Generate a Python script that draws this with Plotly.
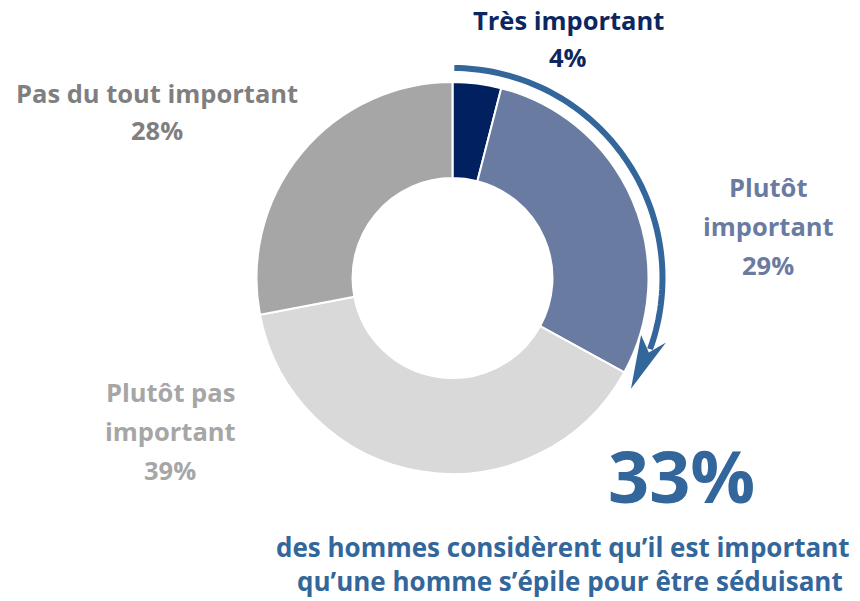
import numpy as np
import plotly.graph_objects as go

# Survey answers, clockwise from 12 o'clock
categories = ["Très important", "Plutôt important", "Plutôt pas important", "Pas du tout important"]
shares = [4, 29, 39, 28]
slice_colors = ["#002060", "#6A7BA2", "#D9D9D9", "#A6A6A6"]
label_colors = ["#0D2660", "#6A7BA2", "#A6A6A6", "#7F7F7F"]
label_lines = [["Très important"], ["Plutôt", "important"], ["Plutôt pas", "important"], ["Pas du tout important"]]
headline_lines = ["des hommes considèrent qu’il est important",
                  "qu’une homme s’épile pour être séduisant"]
accent = "#33669A"

W, H = 860, 601
cx, cy, R = 452.5, 278, 196  # donut centre / radius in pixels (top-left origin)

fig = go.Figure()
fig.add_trace(go.Pie(
    labels=categories, values=shares, sort=False, direction="clockwise", rotation=0,
    hole=0.51, marker=dict(colors=slice_colors, line=dict(color="white", width=2)),
    textinfo="none", hoverinfo="label+percent", showlegend=False,
    domain=dict(x=[(cx - R) / W, (cx + R) / W], y=[(H - cy - R) / H, (H - cy + R) / H]),
))

# Hidden pixel-space axes for the decorations and labels
fig.add_trace(go.Scatter(x=[0, W], y=[0, H], mode="markers", marker=dict(opacity=0),
                         hoverinfo="skip", showlegend=False))

# Curved arrow spanning the "important" share (first two categories)
important = shares[0] + shares[1]
end_deg = 360 * important / 100
r_arc = 210
t = np.radians(np.linspace(0.5, end_deg - 9, 80))
ax_pts = cx + r_arc * np.sin(t)
ay_pts = cy - r_arc * np.cos(t)
path = "M " + " L ".join(f"{x:.2f},{y:.2f}" for x, y in zip(ax_pts, ay_pts))
fig.add_shape(type="path", path=path, xref="x", yref="y",
              line=dict(color=accent, width=6), layer="above")

# Arrow head: tip further along the arc, notched base
def polar(r, deg):
    a = np.radians(deg)
    return cx + r * np.sin(a), cy - r * np.cos(a)

tip = polar(r_arc, end_deg + 3)
b_out = polar(r_arc + 13, end_deg - 12)
b_mid = polar(r_arc, end_deg - 8)
b_in = polar(r_arc - 13, end_deg - 12)
head = "M {:.2f},{:.2f} L {:.2f},{:.2f} L {:.2f},{:.2f} L {:.2f},{:.2f} Z".format(*tip, *b_out, *b_mid, *b_in)
fig.add_shape(type="path", path=head, xref="x", yref="y",
              fillcolor=accent, line=dict(color=accent, width=0), layer="above")

font_family = "Open Sans"

def text(x, y, s, size, color, **kw):
    fig.add_annotation(x=x, y=y, xref="x", yref="y", text=s, showarrow=False,
                       font=dict(family=font_family, size=size, color=color, weight="bold"),
                       xanchor="center", yanchor="middle", borderpad=0, **kw)

# Category labels: name lines then the share
label_pos = [(568, 20, 37), (768, 187, 39), (170, 392, 39), (157, 93, 37)]
for lines, v, col, (lx, ly, step) in zip(label_lines, shares, label_colors, label_pos):
    for i, s in enumerate(lines + [f"{v}%"]):
        text(lx, ly + i * step, s, 25.5, col)

# Headline figure and caption
text(681, 475, f"{important}%", 72, accent)
text(563, 547, headline_lines[0], 26, accent)
text(570, 581, headline_lines[1], 26, accent)

fig.update_layout(
    width=W, height=H, margin=dict(l=0, r=0, t=0, b=0),
    paper_bgcolor="white", plot_bgcolor="rgba(0,0,0,0)",
    xaxis=dict(range=[0, W], visible=False, fixedrange=True),
    yaxis=dict(range=[H, 0], visible=False, fixedrange=True),
)
fig.write_html("out.html")
